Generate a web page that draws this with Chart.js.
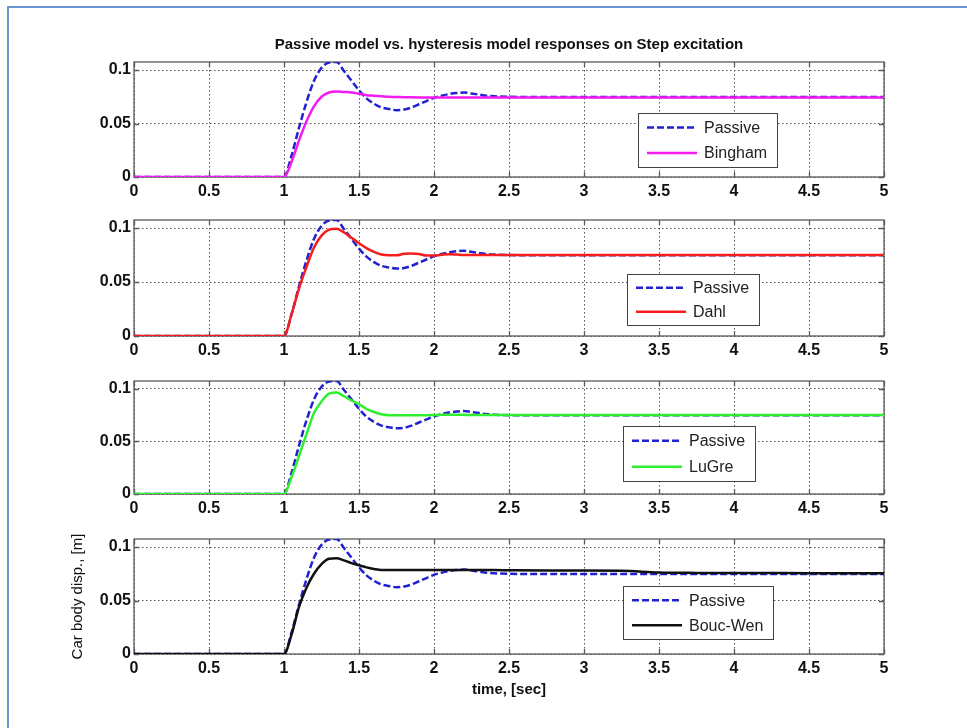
<!DOCTYPE html>
<html><head><meta charset="utf-8">
<script src="https://cdn.jsdelivr.net/npm/chart.js@4.4.0/dist/chart.umd.min.js"></script>
<style>
html,body{margin:0;padding:0;background:#fff;}
#wrap{position:relative;width:967px;height:728px;overflow:hidden;background:#fff;}
#frame{position:absolute;left:7px;top:6px;width:1000px;height:800px;border-left:2px solid #6b97d6;border-top:2px solid #6b97d6;}
canvas{position:absolute;left:0;}
</style></head><body>
<div id="wrap"><div id="frame"></div>
<canvas id="c1" width="967" height="207" style="top:0px"></canvas>
<canvas id="c2" width="967" height="166" style="top:200px"></canvas>
<canvas id="c3" width="967" height="163" style="top:361px"></canvas>
<canvas id="c4" width="967" height="185" style="top:519px"></canvas>
</div>
<script>
// ---- data ----
const time    = [0, 1.0, 1.05, 1.1, 1.15, 1.2, 1.25, 1.3, 1.35, 1.4, 1.45, 1.5, 1.55, 1.6, 1.65, 1.7, 1.75, 1.8, 1.85, 1.9, 1.95, 2.0, 2.05, 2.1, 2.15, 2.2, 2.25, 2.3, 2.35, 2.4, 2.5, 2.75, 3.0, 3.25, 3.5, 3.75, 4.0, 4.5, 5.0];
const passive = [0, 0, 0.020, 0.046, 0.070, 0.090, 0.102, 0.107, 0.1075, 0.099, 0.090, 0.081, 0.0735, 0.0685, 0.065, 0.0635, 0.0625, 0.063, 0.065, 0.068, 0.071, 0.074, 0.076, 0.0775, 0.0785, 0.079, 0.078, 0.077, 0.076, 0.0755, 0.075, 0.0748, 0.0748, 0.0748, 0.0748, 0.0748, 0.0748, 0.0748, 0.0748];
const bingham = [0, 0, 0.014, 0.034, 0.052, 0.066, 0.075, 0.079, 0.080, 0.0795, 0.079, 0.0778, 0.0765, 0.076, 0.0755, 0.075, 0.0748, 0.0746, 0.0745, 0.0744, 0.0743, 0.0743, 0.0742, 0.0742, 0.0742, 0.0742, 0.0742, 0.0742, 0.0742, 0.0742, 0.0742, 0.0742, 0.0742, 0.0742, 0.0742, 0.0742, 0.0742, 0.0742, 0.0742];
const dahl    = [0, 0, 0.020, 0.044, 0.064, 0.082, 0.093, 0.0985, 0.0995, 0.096, 0.091, 0.086, 0.0815, 0.078, 0.0755, 0.0748, 0.0748, 0.0762, 0.0765, 0.076, 0.0745, 0.0745, 0.0752, 0.0758, 0.0755, 0.075, 0.075, 0.075, 0.075, 0.075, 0.075, 0.075, 0.075, 0.075, 0.075, 0.075, 0.075, 0.075, 0.075];
const luGre   = [0, 0, 0.016, 0.036, 0.057, 0.077, 0.088, 0.0955, 0.0965, 0.093, 0.089, 0.0855, 0.081, 0.078, 0.0758, 0.075, 0.075, 0.075, 0.075, 0.075, 0.075, 0.0752, 0.0754, 0.0755, 0.0754, 0.0753, 0.0752, 0.0752, 0.0752, 0.0752, 0.0752, 0.0752, 0.0752, 0.0752, 0.0752, 0.0752, 0.0752, 0.0752, 0.0752];
const boucWen = [0, 0, 0.018, 0.044, 0.062, 0.075, 0.084, 0.089, 0.0895, 0.0875, 0.085, 0.083, 0.081, 0.0795, 0.0785, 0.0785, 0.0785, 0.0785, 0.0785, 0.0785, 0.0785, 0.0785, 0.0785, 0.0785, 0.0785, 0.0785, 0.0785, 0.0785, 0.0785, 0.0785, 0.0783, 0.078, 0.078, 0.0778, 0.0762, 0.0758, 0.0757, 0.0756, 0.0755];
const xTicks = [0, 0.5, 1, 1.5, 2, 2.5, 3, 3.5, 4, 4.5, 5];
const yTicks = [0, 0.05, 0.1];
const titleText = 'Passive model vs. hysteresis model responses on Step excitation';
const xTitleText = 'time, [sec]';
const yTitleText = 'Car body disp., [m]';

// ---- rendering ----
const FAM = "'Liberation Sans', Arial, Helvetica, sans-serif";
const pts = arr => time.map((t, i) => ({x: t, y: arr[i]}));

const framePlugin = {
  id: 'axFrame',
  beforeDatasetsDraw(chart) {
    const {ctx, chartArea: a, scales: {x, y}} = chart;
    ctx.save();
    ctx.strokeStyle = '#5a5a5a';
    ctx.lineWidth = 1.3;
    ctx.strokeRect(a.left, a.top, a.width, a.height);
    ctx.beginPath();
    x.ticks.forEach(t => {
      const px = Math.round(x.getPixelForValue(t.value)) + 0.5;
      ctx.moveTo(px, a.top); ctx.lineTo(px, a.top + 5);
      ctx.moveTo(px, a.bottom); ctx.lineTo(px, a.bottom - 5);
    });
    y.ticks.forEach(t => {
      const py = Math.round(y.getPixelForValue(t.value)) + 0.5;
      ctx.moveTo(a.left, py); ctx.lineTo(a.left + 5, py);
      ctx.moveTo(a.right, py); ctx.lineTo(a.right - 5, py);
    });
    ctx.stroke();
    ctx.restore();
  }
};

const boxLegendPlugin = {
  id: 'boxLegend',
  afterDatasetsDraw(chart, args, o) {
    const {ctx, chartArea: a} = chart;
    ctx.save();
    ctx.font = '16px ' + FAM;
    const dsets = chart.data.datasets;
    let tw = 0;
    dsets.forEach(d => { tw = Math.max(tw, ctx.measureText(d.label).width); });
    const bx = a.left + o.dx, by = a.top + o.dy, bw = 66 + tw + 10, bh = o.h;
    ctx.fillStyle = '#fff';
    ctx.fillRect(bx, by, bw, bh);
    ctx.strokeStyle = '#444';
    ctx.lineWidth = 1;
    ctx.strokeRect(Math.round(bx) + 0.5, Math.round(by) + 0.5, Math.round(bw), Math.round(bh));
    const rows = [by + bh * 0.27, by + bh * 0.74];
    dsets.forEach((d, i) => {
      const ry = rows[i];
      ctx.beginPath();
      ctx.setLineDash(d.borderDash || []);
      ctx.strokeStyle = d.borderColor;
      ctx.lineWidth = d.borderWidth;
      ctx.moveTo(bx + 9, ry); ctx.lineTo(bx + 59, ry);
      ctx.stroke();
      ctx.setLineDash([]);
      ctx.fillStyle = '#222';
      ctx.textBaseline = 'middle';
      ctx.textAlign = 'left';
      ctx.fillText(d.label, bx + 66, ry + 1);
    });
    ctx.restore();
  }
};

function makeChart(id, modelLabel, modelData, modelColor, cfg) {
  const tickFont = {family: FAM, size: 16, weight: 'bold'};
  return new Chart(document.getElementById(id), {
    type: 'line',
    data: {
      datasets: [
        {label: 'Passive', data: pts(passive), borderColor: '#2121cf', borderWidth: 2.5, borderDash: [7, 3],
         pointRadius: 0, cubicInterpolationMode: 'monotone', fill: false, order: 1},
        {label: modelLabel, data: pts(modelData), borderColor: modelColor, borderWidth: 2.5,
         pointRadius: 0, cubicInterpolationMode: 'monotone', fill: false, order: 0}
      ]
    },
    options: {
      responsive: false,
      animation: false,
      devicePixelRatio: 1,
      layout: {padding: {left: 0, right: 83, top: cfg.padTop, bottom: 0}},
      plugins: {
        legend: {display: false},
        tooltip: {enabled: false},
        title: cfg.title ? {display: true, text: titleText, fullSize: false, color: '#111',
          font: {family: FAM, size: 15, weight: 'bold', lineHeight: 1.2}, padding: {top: 36, bottom: 8}} : {display: false},
        boxLegend: cfg.legend
      },
      scales: {
        x: {
          type: 'linear', min: 0, max: 5,
          afterBuildTicks: s => { s.ticks = xTicks.map(v => ({value: v})); },
          afterFit: s => { s.height = cfg.xH; },
          grid: {color: '#555', lineWidth: 1, drawTicks: false},
          border: {display: false, dash: [1.5, 2.5]},
          ticks: {padding: 5, color: '#111', font: tickFont, autoSkip: false, maxRotation: 0, callback: v => String(v)},
          title: cfg.xTitle ? {display: true, text: xTitleText, color: '#111',
            font: {family: FAM, size: 15, weight: 'bold', lineHeight: 1.2}, padding: {top: 0, bottom: 5}} : {display: false}
        },
        y: {
          type: 'linear', min: 0, max: 0.1075,
          afterBuildTicks: s => { s.ticks = yTicks.map(v => ({value: v})); },
          afterFit: s => { s.width = 134; },
          grid: {color: '#555', lineWidth: 1, drawTicks: false},
          border: {display: false, dash: [1.5, 2.5]},
          ticks: {padding: 3, color: '#111', font: tickFont, callback: v => String(v)},
          title: cfg.yTitle ? {display: true, text: yTitleText, color: '#111',
            font: {family: FAM, size: 15, lineHeight: 1.2}, padding: {top: 69, bottom: 0}} : {display: false}
        }
      }
    },
    plugins: [framePlugin, boxLegendPlugin]
  });
}

makeChart('c1', 'Bingham', bingham, '#f21cf0', {padTop: 0, title: true, xH: 30, legend: {dx: 504, dy: 51, h: 54}});
makeChart('c2', 'Dahl', dahl, '#f51d1d', {padTop: 20, xH: 30, legend: {dx: 493, dy: 54, h: 51}});
makeChart('c3', 'LuGre', luGre, '#2ef02e', {padTop: 20, xH: 30, legend: {dx: 489, dy: 45, h: 55}});
makeChart('c4', 'Bouc-Wen', boucWen, '#111111', {padTop: 20, xH: 50, xTitle: true, yTitle: true, legend: {dx: 489, dy: 47, h: 53}});
</script>
</body></html>
